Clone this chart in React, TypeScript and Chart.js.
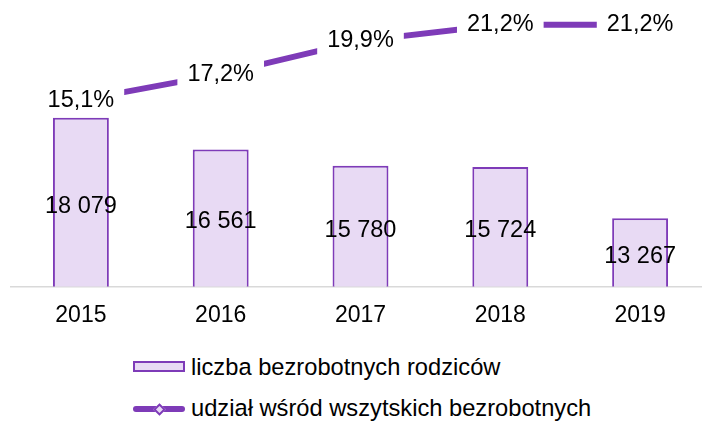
import { useEffect, useRef } from "react";
import { Chart, registerables } from "chart.js";

Chart.register(...registerables);

const years = ["2015", "2016", "2017", "2018", "2019"];
const unemployedParents = [18079, 16561, 15780, 15724, 13267];
const shareOfAllUnemployed = [15.1, 17.2, 19.9, 21.2, 21.2];
const barSeriesLabel = "liczba bezrobotnych rodziców";
const lineSeriesLabel = "udział wśród wszytskich bezrobotnych";

const PURPLE = "#7E3BB8";
const LAVENDER = "#E8DAF4";
const FONT = '"Liberation Sans", Arial, sans-serif';

const fmtInt = (v: number) => String(v).replace(/\B(?=(\d{3})+(?!\d))/g, " ");
const fmtPct = (v: number) => v.toFixed(1).replace(".", ",") + "%";

const valueLabels = {
  id: "valueLabels",
  afterDatasetsDraw(chart: any) {
    const ctx = chart.ctx;
    const bottom = chart.chartArea.bottom;
    ctx.save();
    ctx.font = `23.5px ${FONT}`;
    ctx.textAlign = "center";
    ctx.textBaseline = "middle";
    const barMeta = chart.getDatasetMeta(0);
    barMeta.data.forEach((el: any, i: number) => {
      const { x, y } = el.getProps(["x", "y"], true);
      ctx.fillStyle = "#000";
      ctx.fillText(fmtInt(unemployedParents[i]), x, (y + bottom) / 2 + 4);
    });
    const lineMeta = chart.getDatasetMeta(1);
    lineMeta.data.forEach((el: any, i: number) => {
      const { x, y } = el.getProps(["x", "y"], true);
      const t = fmtPct(shareOfAllUnemployed[i]);
      const w = ctx.measureText(t).width;
      ctx.fillStyle = "#fff";
      ctx.fillRect(x - w / 2 - 10, y - 14, w + 20, 28);
      ctx.fillStyle = "#000";
      ctx.fillText(t, x, y);
    });
    ctx.restore();
  },
};

export default function App() {
  const ref = useRef<HTMLCanvasElement>(null);
  useEffect(() => {
    const chart = new Chart(ref.current!, {
      data: {
        labels: years,
        datasets: [
          {
            type: "bar",
            label: barSeriesLabel,
            data: unemployedParents,
            yAxisID: "y",
            backgroundColor: LAVENDER,
            borderColor: PURPLE,
            borderWidth: 2,
            categoryPercentage: 1,
            barPercentage: 0.4,
            order: 1,
          },
          {
            type: "line",
            label: lineSeriesLabel,
            data: shareOfAllUnemployed,
            yAxisID: "y2",
            borderColor: PURPLE,
            backgroundColor: LAVENDER,
            borderWidth: 6,
            borderCapStyle: "butt",
            pointRadius: 0,
            tension: 0,
            order: 0,
          },
        ],
      } as any,
      options: {
        animation: false,
        responsive: false,
        layout: { padding: { left: 11, right: 10, top: 10, bottom: 0 } },
        plugins: { legend: { display: false }, tooltip: { enabled: false } },
        scales: {
          x: {
            type: "category",
            offset: true,
            grid: { display: false, drawTicks: false },
            border: { display: true, color: "#D9D9D9", width: 1.5 },
            ticks: { font: { size: 23, family: FONT }, color: "#000", padding: 15 },
          },
          y: { display: false, min: 10000, max: 23250 },
          y2: { display: false, min: 0, max: 22.4, position: "right" },
        },
      } as any,
      plugins: [valueLabels],
    });
    return () => chart.destroy();
  }, []);

  const textStyle: any = {
    position: "absolute",
    left: 191,
    fontFamily: FONT,
    fontSize: 23.7,
    lineHeight: "23px",
    color: "#000",
    whiteSpace: "nowrap",
  };

  return (
    <div
      style={{
        position: "absolute",
        left: 0,
        top: 0,
        width: 702,
        height: 421,
        overflow: "hidden",
        background: "#fff",
      }}
    >
      <div style={{ position: "absolute", left: 0, top: 0, width: 720, height: 344 }}>
        <canvas ref={ref} width={720} height={344} />
      </div>
      <div
        style={{
          position: "absolute",
          left: 133,
          top: 361,
          width: 52,
          height: 11,
          boxSizing: "border-box",
          border: `2px solid ${PURPLE}`,
          background: LAVENDER,
        }}
      />
      <div style={{ ...textStyle, top: 355.5 }}>{barSeriesLabel}</div>
      <div
        style={{
          position: "absolute",
          left: 133,
          top: 406,
          width: 52,
          height: 6,
          borderRadius: 3,
          background: PURPLE,
        }}
      />
      <div
        style={{
          position: "absolute",
          left: 154.5,
          top: 404.5,
          width: 9,
          height: 9,
          boxSizing: "border-box",
          border: `2px solid ${PURPLE}`,
          background: LAVENDER,
          transform: "rotate(45deg)",
        }}
      />
      <div style={{ ...textStyle, top: 396.5 }}>{lineSeriesLabel}</div>
    </div>
  );
}
